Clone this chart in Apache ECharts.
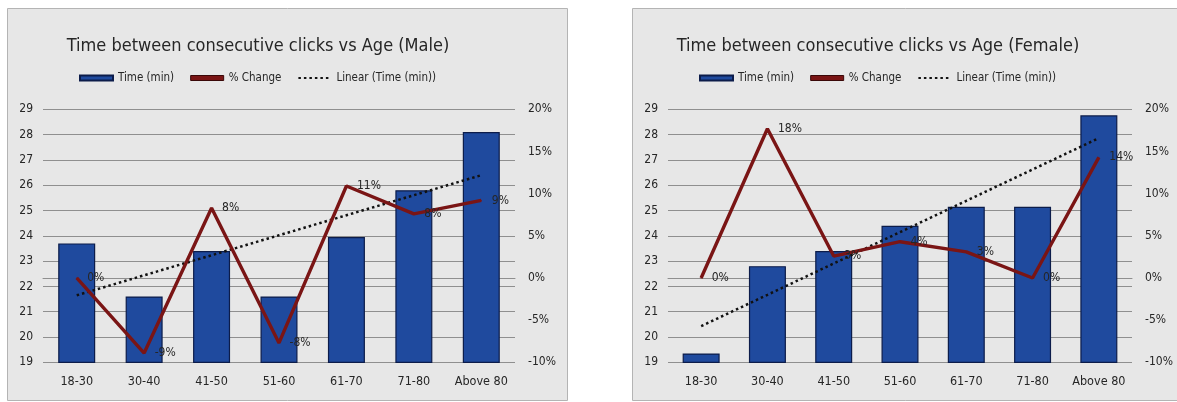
<!DOCTYPE html>
<html>
<head>
<meta charset="utf-8">
<title>Time between consecutive clicks vs Age</title>
<script src="https://cdn.jsdelivr.net/npm/echarts@6/dist/echarts.min.js"></script>
<style>
  html, body { margin: 0; padding: 0; background: #ffffff; }
  #chart { width: 1177px; height: 402px; }
</style>
</head>
<body>
<div id="chart"></div>
<script>
// Age groups shared by both panels
const ageGroups = ['18-30', '30-40', '41-50', '51-60', '61-70', '71-80', 'Above 80'];

// Average time between consecutive clicks (minutes)
const maleTime = [23.7, 21.6, 23.4, 21.6, 23.95, 25.8, 28.1];
const femaleTime = [19.35, 22.8, 23.4, 24.4, 25.15, 25.15, 28.76];

// Change from the previous age group (%)
const maleChange = [0, -8.9, 8.3, -7.7, 10.9, 7.6, 9.2];
const femaleChange = [0, 17.7, 2.6, 4.3, 3.1, 0, 14.3];

// Axis ticks
const timeAxis = { min: 19, max: 29, step: 1 };
const changeAxis = { min: -10, max: 20, step: 5 };

const titles = [
  'Time between consecutive clicks vs Age (Male)',
  'Time between consecutive clicks vs Age (Female)'
];

// Least-squares linear trendline through the bar values
function linearTrend(values) {
  const n = values.length;
  let sx = 0, sy = 0, sxx = 0, sxy = 0;
  values.forEach((y, i) => {
    const x = i + 1;
    sx += x; sy += y; sxx += x * x; sxy += x * y;
  });
  const slope = (n * sxy - sx * sy) / (n * sxx - sx * sx);
  const icpt = (sy - slope * sx) / n;
  return values.map((_, i) => +(icpt + slope * (i + 1)).toFixed(3));
}

const FONT = '"Liberation Sans Narrow", "DejaVu Sans Condensed", Lato, sans-serif';
const TEXT = '#262626';
const BAR = '#1f4a9e';
const BAR_EDGE = '#0c1c4a';
const LINE = '#7a1515';
const GRIDLINE = '#8f8f8f';

const panels = [
  { x: 7, w: 560, grid: { left: 43, right: 662 }, center: 253, legendLeft: 79, time: maleTime, change: maleChange },
  { x: 632, w: 560, grid: { left: 668, right: 45 }, center: 873, legendLeft: 699, time: femaleTime, change: femaleChange }
];

const legendItems = [
  { name: 'Time (min)', icon: 'rect' },
  { name: '% Change', icon: 'rect', itemStyle: { color: LINE, borderColor: '#3a0808', borderWidth: 1 } },
  { name: 'Linear (Time (min))', itemStyle: { opacity: 0 } }
];

const option = {
  animation: false,
  backgroundColor: '#ffffff',
  textStyle: { fontFamily: FONT },
  graphic: panels.map(p => ({
    type: 'rect',
    silent: true,
    z: -10,
    shape: { x: p.x + 0.5, y: 8.5, width: p.w, height: 392 },
    style: { fill: '#e7e7e7', stroke: '#b4b4b4', lineWidth: 1 }
  })),
  title: panels.map((p, i) => ({
    text: titles[i],
    left: p.center,
    textAlign: 'center',
    top: 32,
    textStyle: { fontFamily: FONT, fontSize: 18, fontWeight: 'normal', color: TEXT }
  })),
  legend: panels.map(p => ({
    data: legendItems,
    left: p.legendLeft,
    top: 72,
    padding: 0,
    itemWidth: 33,
    itemHeight: 5,
    itemGap: 16,
    textStyle: { fontFamily: FONT, fontSize: 11.5, color: TEXT }
  })),
  grid: panels.map(p => ({
    left: p.grid.left,
    right: p.grid.right,
    top: 109.3,
    bottom: 39.7,
    containLabel: false
  })),
  xAxis: panels.map((p, i) => ({
    type: 'category',
    gridIndex: i,
    data: ageGroups,
    axisTick: { show: false },
    axisLine: { show: true, lineStyle: { color: GRIDLINE, width: 1 } },
    axisLabel: { fontFamily: FONT, fontSize: 12.5, color: TEXT, margin: 13, interval: 0 }
  })),
  yAxis: panels.flatMap((p, i) => [
    {
      type: 'value',
      gridIndex: i,
      min: timeAxis.min,
      max: timeAxis.max,
      interval: timeAxis.step,
      axisLine: { show: false },
      axisTick: { show: false },
      splitLine: { lineStyle: { color: GRIDLINE, width: 1 } },
      axisLabel: { fontFamily: FONT, fontSize: 12, color: TEXT, margin: 10 }
    },
    {
      type: 'value',
      gridIndex: i,
      position: 'right',
      min: changeAxis.min,
      max: changeAxis.max,
      interval: changeAxis.step,
      axisLine: { show: false },
      axisTick: { show: false },
      splitLine: { show: false },
      axisLabel: { fontFamily: FONT, fontSize: 12, color: TEXT, margin: 13, formatter: '{value}%' }
    }
  ]),
  series: panels.flatMap((p, i) => [
    {
      name: 'Time (min)',
      type: 'bar',
      xAxisIndex: i,
      yAxisIndex: i * 2,
      data: p.time,
      barWidth: 37,
      itemStyle: { color: BAR, borderColor: BAR_EDGE, borderWidth: 1.2 },
      z: 2
    },
    {
      name: 'Linear (Time (min))',
      type: 'line',
      xAxisIndex: i,
      yAxisIndex: i * 2,
      data: linearTrend(p.time),
      symbol: 'none',
      lineStyle: { color: '#111111', width: 2.5, type: [2.5, 3] },
      itemStyle: { color: '#111111' },
      z: 3
    },
    {
      name: '% Change',
      type: 'line',
      xAxisIndex: i,
      yAxisIndex: i * 2 + 1,
      data: p.change,
      symbol: 'circle',
      symbolSize: 1,
      showSymbol: true,
      lineStyle: { color: LINE, width: 3.4 },
      itemStyle: { color: LINE },
      label: {
        show: true,
        position: 'right',
        distance: 10,
        fontFamily: FONT,
        fontSize: 12,
        color: TEXT,
        formatter: d => Math.round(d.value) + '%'
      },
      z: 4
    }
  ])
};

const chart = echarts.init(document.getElementById('chart'), null, { renderer: 'canvas' });
chart.setOption(option);
</script>
</body>
</html>
